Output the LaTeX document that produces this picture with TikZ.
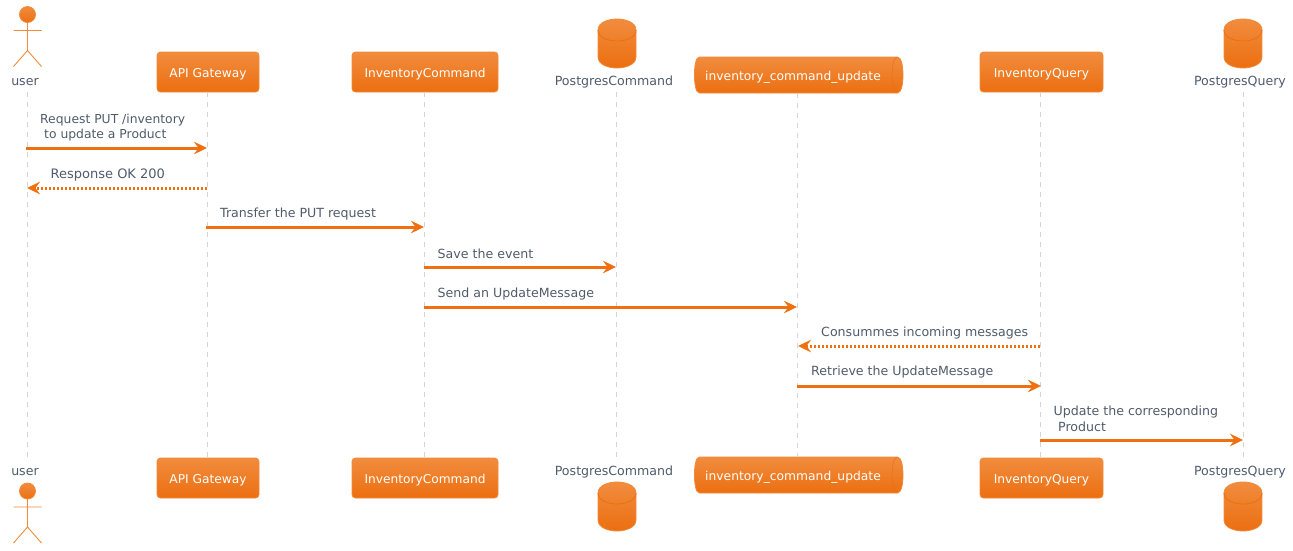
\documentclass[tikz,border=0pt]{standalone}
\usepackage{fontspec}
\setmainfont{DejaVu Sans}
\usetikzlibrary{arrows.meta}
\definecolor{topc}{HTML}{F18C3E}
\definecolor{botc}{HTML}{EC6F10}
\definecolor{edgec}{HTML}{F28A3A}
\definecolor{arrowc}{HTML}{EE7011}
\definecolor{txt}{HTML}{4F5B6B}
\definecolor{life}{HTML}{D4D4D4}
\tikzset{
  x=1pt,y=-1pt,
  box/.style={rectangle,rounded corners=3.5pt,draw=edgec,line width=.8pt,top color=topc,bottom color=botc,
     text=white,font=\fontsize{12.2}{15}\selectfont,minimum height=40pt,inner xsep=0pt,inner ysep=0pt,text height=12pt,text depth=2pt},
  lab/.style={text=txt,font=\fontsize{12.6}{15}\selectfont,inner sep=0pt,text height=10pt,text depth=3pt},
  qlab/.style={text=white,font=\fontsize{12.3}{15}\selectfont,inner sep=0pt,text height=10pt,text depth=3pt},
  msg/.style={text=txt,font=\fontsize{12.6}{15}\selectfont,inner sep=0pt,anchor=west,align=left},
  lifeline/.style={draw=life,line width=1pt,dash pattern=on 5pt off 5pt},
  tip/.style={-{Stealth[length=13pt,width=12.5pt,inset=4.5pt]}},
  call/.style={draw=arrowc,line width=3pt,tip},
  ret/.style={draw=arrowc,line width=3pt,tip,dash pattern=on 2.2pt off 1.8pt},
  fillshade/.style={top color=topc,bottom color=botc,draw=edgec,line width=.8pt},
  limb/.style={draw=edgec,line width=.9pt},
}
\newcommand{\dbshape}[2]{% centre x, top y
  \path[fillshade] (#1-19,#2+11) .. controls (#1-19,#2+3) and (#1-8,#2) .. (#1,#2)
     .. controls (#1+8,#2) and (#1+19,#2+3) .. (#1+19,#2+11) -- (#1+19,#2+38)
     .. controls (#1+19,#2+46) and (#1+8,#2+49) .. (#1,#2+49)
     .. controls (#1-8,#2+49) and (#1-19,#2+46) .. (#1-19,#2+38) -- cycle;
  \draw[draw=botc,line width=.8pt] (#1-19,#2+11) .. controls (#1-19,#2+19) and (#1-8,#2+22) .. (#1,#2+22)
     .. controls (#1+8,#2+22) and (#1+19,#2+19) .. (#1+19,#2+11);
}
\newcommand{\queueshape}[2]{% left x, top y
  \path[fillshade] (#1+5,#2) -- (#1+203,#2) .. controls (#1+207,#2) and (#1+208.5,#2+10) .. (#1+208.5,#2+18)
     .. controls (#1+208.5,#2+26) and (#1+207,#2+36) .. (#1+203,#2+36) -- (#1+5,#2+36)
     .. controls (#1+1,#2+36) and (#1,#2+26) .. (#1,#2+18) .. controls (#1,#2+10) and (#1+1,#2) .. (#1+5,#2) -- cycle;
  \draw[draw=botc,line width=.5pt] (#1+203,#2) .. controls (#1+199,#2) and (#1+197.5,#2+10) .. (#1+197.5,#2+18)
     .. controls (#1+197.5,#2+26) and (#1+199,#2+36) .. (#1+203,#2+36);
}
\newcommand{\actorshape}[2]{% centre x, head centre y
  \draw[limb] (#1,#2+8) -- (#1,#2+36) (#1-14,#2+16) -- (#1+14,#2+16)
     (#1-14,#2+52) -- (#1,#2+36) -- (#1+14,#2+52);
  \path[fillshade] (#1,#2) circle[radius=8];
}
\begin{document}
\begin{tikzpicture}
\useasboundingbox (0,0) rectangle (1293,550);
\actorshape{27.5}{14.5}
\actorshape{27.5}{491}
\dbshape{617}{19}
\dbshape{617}{482}
\dbshape{1243}{19}
\dbshape{1243}{482}
\queueshape{694.5}{57}
\queueshape{694.5}{457}
% headers
\node[lab] (ut) at (25,81.5) {user};
\node[box,minimum width=102pt] (at) at (208,72) {API Gateway};
\node[box,minimum width=146pt] (ct) at (425,72) {InventoryCommand};
\node[lab] (pt) at (614,81.5) {PostgresCommand};
\node[qlab] (qt) at (793,76.5) {inventory\_command\_update};
\node[box,minimum width=123pt] (it) at (1041.5,72) {InventoryQuery};
\node[lab] (st) at (1240,81.5) {PostgresQuery};
% footers
\node[lab] (ub) at (25,471.5) {user};
\node[box,minimum width=102pt] (ab) at (208,478) {API Gateway};
\node[box,minimum width=146pt] (cb) at (425,478) {InventoryCommand};
\node[lab] (pb) at (614,471.5) {PostgresCommand};
\node[qlab] (qb) at (793,476.5) {inventory\_command\_update};
\node[box,minimum width=123pt] (ib) at (1041.5,478) {InventoryQuery};
\node[lab] (sb) at (1240,471.5) {PostgresQuery};
% lifeline ends
\coordinate (l1t) at (27.5,92); \coordinate (l1b) at (27.5,458);
\coordinate (l2t) at (207.5,92); \coordinate (l2b) at (207.5,458);
\coordinate (l3t) at (424.5,92); \coordinate (l3b) at (424.5,458);
\coordinate (l4t) at (616.5,92); \coordinate (l4b) at (616.5,458);
\coordinate (l5t) at (797.5,93); \coordinate (l5b) at (797.5,457);
\coordinate (l6t) at (1040.5,92); \coordinate (l6b) at (1040.5,458);
\coordinate (l7t) at (1243.5,92); \coordinate (l7b) at (1243.5,458);
\foreach \n in {1,...,7} \draw[lifeline] (l\n t) -- (l\n b);
% messages
\coordinate (m1a) at (26,148); \coordinate (m1b) at (207,148);
\coordinate (m2a) at (207,188); \coordinate (m2b) at (27,188);
\coordinate (m3a) at (206,227); \coordinate (m3b) at (424,227);
\coordinate (m4a) at (424,267); \coordinate (m4b) at (616,267);
\coordinate (m5a) at (424,307); \coordinate (m5b) at (797,307);
\coordinate (m6a) at (1040,346); \coordinate (m6b) at (798,346);
\coordinate (m7a) at (797,386); \coordinate (m7b) at (1041,386);
\coordinate (m8a) at (1040,440); \coordinate (m8b) at (1243,440);
\draw[call] (m1a) -- (m1b);
\draw[ret] (m2a) -- (m2b);
\draw[call] (m3a) -- (m3b);
\draw[call] (m4a) -- (m4b);
\draw[call] (m5a) -- (m5b);
\draw[ret] (m6a) -- (m6b);
\draw[call] (m7a) -- (m7b);
\draw[call] (m8a) -- (m8b);
\node[msg,font=\fontsize{12.35}{15}\selectfont] (t1) at (40,120.5) {Request PUT /inventory};
\node[msg,font=\fontsize{12.35}{15}\selectfont] (t1b) at (44,135) {to update a Product};
\node[msg,font=\fontsize{13}{15}\selectfont] (t2) at (50.5,175) {Response OK 200};
\node[msg] (t3) at (220,214) {Transfer the PUT request};
\node[msg] (t4) at (437.5,254) {Save the event};
\node[msg] (t5) at (437.5,294) {Send an UpdateMessage};
\node[msg] (t6) at (821,333) {Consummes incoming messages};
\node[msg] (t7) at (811,372.5) {Retrieve the UpdateMessage};
\node[msg] (t8) at (1053.5,412) {Update the corresponding};
\node[msg] (t8b) at (1058,426.5) {Product};
\end{tikzpicture}
\end{document}
